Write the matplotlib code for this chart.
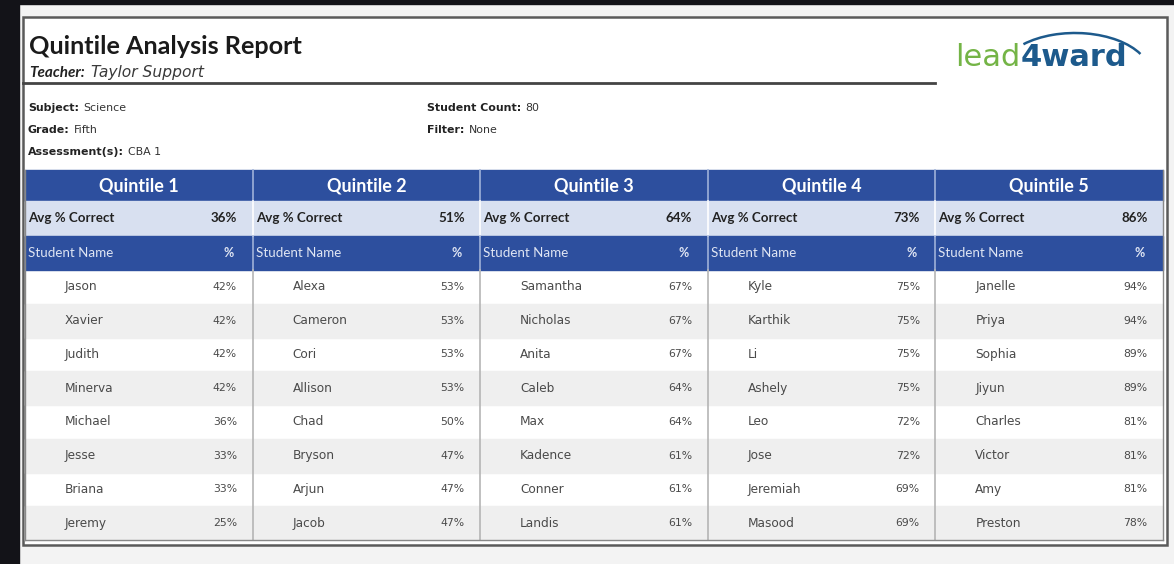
import matplotlib
matplotlib.use("Agg")
import matplotlib.pyplot as plt
from matplotlib.patches import Rectangle, Arc

plt.rcParams['font.family'] = ['Lato', 'DejaVu Sans']

# ---------------- data ----------------
title = "Quintile Analysis Report"
teacher = "Taylor Support"
info_left = [("Subject:", "Science"), ("Grade:", "Fifth"), ("Assessment(s):", "CBA 1")]
info_right = [("Student Count:", "80"), ("Filter:", "None")]

quintiles = ["Quintile 1", "Quintile 2", "Quintile 3", "Quintile 4", "Quintile 5"]
avg_correct = [36, 51, 64, 73, 86]

q1_names = ["Jason", "Xavier", "Judith", "Minerva", "Michael", "Jesse", "Briana", "Jeremy"]
q1_pct = [42, 42, 42, 42, 36, 33, 33, 25]
q2_names = ["Alexa", "Cameron", "Cori", "Allison", "Chad", "Bryson", "Arjun", "Jacob"]
q2_pct = [53, 53, 53, 53, 50, 47, 47, 47]
q3_names = ["Samantha", "Nicholas", "Anita", "Caleb", "Max", "Kadence", "Conner", "Landis"]
q3_pct = [67, 67, 67, 64, 64, 61, 61, 61]
q4_names = ["Kyle", "Karthik", "Li", "Ashely", "Leo", "Jose", "Jeremiah", "Masood"]
q4_pct = [75, 75, 75, 75, 72, 72, 69, 69]
q5_names = ["Janelle", "Priya", "Sophia", "Jiyun", "Charles", "Victor", "Amy", "Preston"]
q5_pct = [94, 94, 89, 89, 81, 81, 81, 78]

names = [q1_names, q2_names, q3_names, q4_names, q5_names]
pcts = [q1_pct, q2_pct, q3_pct, q4_pct, q5_pct]

# ---------------- styles ----------------
W, H = 1174, 564
DARK_BG = "#131318"
PAGE_BG = "#f3f3f3"
BLUE = "#2d4f9e"
LIGHT_BLUE = "#d8e0f0"
ROW_GRAY = "#efefef"
TXT = "#4a4a4a"
WIDE = ['DejaVu Sans']

fig = plt.figure(figsize=(W / 100, H / 100), dpi=100)
ax = fig.add_axes([0, 0, 1, 1])
ax.set_xlim(0, W)
ax.set_ylim(H, 0)
ax.axis("off")
renderer = fig.canvas.get_renderer()


def text_width(t):
    return t.get_window_extent(renderer=renderer).width


# backgrounds
ax.add_patch(Rectangle((0, 0), W, H, color=PAGE_BG, zorder=0))
ax.add_patch(Rectangle((0, 0), 19, H, color=DARK_BG, zorder=1))
ax.add_patch(Rectangle((0, 0), W, 4, color=DARK_BG, zorder=1))
# report box
ax.add_patch(Rectangle((23, 17), 1144, 528, facecolor="white", edgecolor="#5a5a5a",
                       lw=1.8, zorder=2))

# title block
ax.text(29, 47, title, fontsize=18.2, fontweight="bold", color="#1a1a1a",
        va="center", ha="left", zorder=5)
t1 = ax.text(29, 73, "Teacher:", fontsize=11, fontweight="bold", style="italic",
             color="#222222", va="center", ha="left", zorder=5)
ax.text(29 + text_width(t1) + 6, 73, teacher, fontsize=11.2, style="italic",
        family=WIDE, color="#3a3a3a", va="center", ha="left", zorder=5)
ax.plot([23, 935], [83, 83], color="#444444", lw=2.0, zorder=5)

# logo
tl = ax.text(955, 58, "lead", fontsize=22, color="#74b446", va="center", ha="left",
             zorder=5, family=WIDE)
ax.text(955 + text_width(tl), 58, "4ward", fontsize=22, color="#1d5a8c",
        va="center", ha="left", zorder=5, family=WIDE, fontweight="bold")
ax.add_patch(Arc((1075, 74), 150, 82, theta1=210, theta2=343, color="#1d5a8c",
                 lw=1.8, zorder=5))

# info
for col_x, items in ((28, info_left), (427, info_right)):
    for i, (lab, val) in enumerate(items):
        y = 108 + 22 * i
        tl_ = ax.text(col_x, y, lab, fontsize=7.9, fontweight="bold", color="#222222",
                      family=WIDE, va="center", ha="left", zorder=5)
        ax.text(col_x + text_width(tl_) + 4, y, val, fontsize=7.9, color="#333333",
                family=WIDE, va="center", ha="left", zorder=5)

# table geometry
x0, x1 = 25, 1163
col_w = (x1 - x0) / len(quintiles)
y_head, y_avg, y_sub, y_data = 170, 201, 236, 270
n_rows = len(q1_names)
row_h = (540 - y_data) / n_rows

ax.add_patch(Rectangle((x0, y_head), x1 - x0, y_avg - y_head, color=BLUE, zorder=3))
ax.add_patch(Rectangle((x0, y_avg), x1 - x0, y_sub - y_avg, color=LIGHT_BLUE, zorder=3))
ax.add_patch(Rectangle((x0, y_sub), x1 - x0, y_data - y_sub, color=BLUE, zorder=3))
for r in range(n_rows):
    if r % 2 == 1:
        ax.add_patch(Rectangle((x0, y_data + r * row_h), x1 - x0, row_h,
                               color=ROW_GRAY, zorder=3))

for q in range(len(quintiles)):
    cx = x0 + q * col_w
    if q > 0:
        ax.plot([cx, cx], [y_head, y_avg], color="#9fb1d8", lw=1.2, zorder=4)
        ax.plot([cx, cx], [y_avg, y_sub], color="#ffffff", lw=1.2, zorder=4)
        ax.plot([cx, cx], [y_sub, y_data], color="#9fb1d8", lw=1.2, zorder=4)
        ax.plot([cx, cx], [y_data, 540], color="#b5b5b5", lw=1.2, zorder=4)
    ax.text(cx + col_w / 2, (y_head + y_avg) / 2, quintiles[q], fontsize=13,
            fontweight="bold", color="white", va="center", ha="center", zorder=5)
    ax.text(cx + 3, (y_avg + y_sub) / 2, "Avg % Correct", fontsize=9.6,
            fontweight="bold", color="#222222", va="center", ha="left", zorder=5)
    ax.text(cx + 212, (y_avg + y_sub) / 2, f"{avg_correct[q]}%", fontsize=9.6,
            fontweight="bold", color="#222222", va="center", ha="right", zorder=5)
    ax.text(cx + 3, (y_sub + y_data) / 2, "Student Name", fontsize=9.6,
            color="#dfe5f3", va="center", ha="left", zorder=5)
    ax.text(cx + 209, (y_sub + y_data) / 2, "%", fontsize=9, fontweight="bold",
            color="#dfe5f3", va="center", ha="right", zorder=5)
    for r in range(n_rows):
        yy = y_data + (r + 0.5) * row_h
        ax.text(cx + 40, yy, names[q][r], fontsize=8.7, color=TXT, family=WIDE,
                va="center", ha="left", zorder=5)
        ax.text(cx + 212, yy, f"{pcts[q][r]}%", fontsize=7.8, color=TXT,
                family=WIDE, va="center", ha="right", zorder=5)

ax.plot([x0, x0], [y_head, 540], color="#888888", lw=1, zorder=4)
ax.plot([x1, x1], [y_head, 540], color="#888888", lw=1, zorder=4)
ax.plot([x0, x1], [540, 540], color="#888888", lw=1, zorder=4)

fig.savefig("out.png", dpi=100, facecolor=PAGE_BG)
